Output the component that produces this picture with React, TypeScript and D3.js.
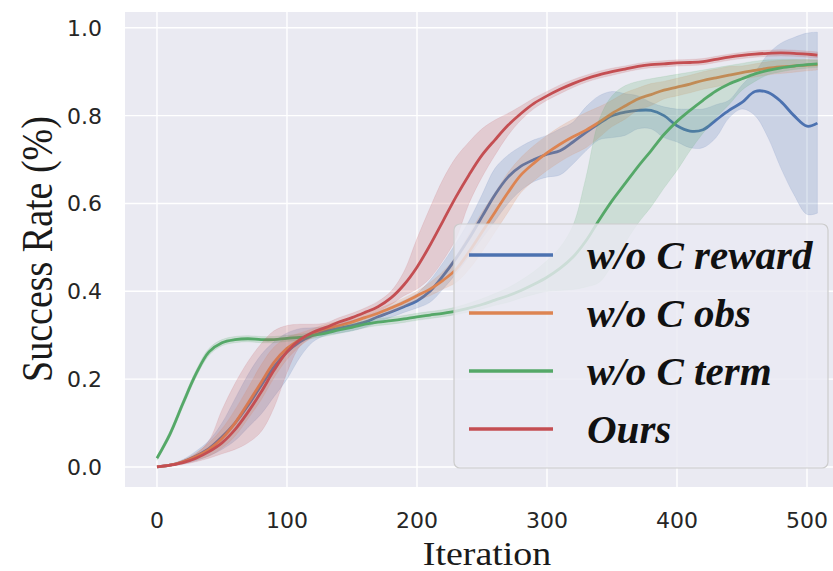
import * as d3 from 'd3';

const iterations = [0, 10, 20, 30, 40, 50, 60, 70, 80, 90, 100, 110, 120, 130, 140, 150, 160, 170, 180, 190, 200, 210, 220, 230, 240, 250, 260, 270, 280, 290, 300, 310, 320, 330, 340, 350, 360, 370, 380, 390, 400, 410, 420, 430, 440, 450, 460, 470, 480, 490, 500, 508];

// w/o C reward
const rewardMean = [0, 0.004, 0.012, 0.025, 0.042, 0.068, 0.1, 0.14, 0.185, 0.228, 0.262, 0.285, 0.3, 0.31, 0.316, 0.322, 0.33, 0.342, 0.353, 0.365, 0.378, 0.4, 0.435, 0.475, 0.52, 0.57, 0.62, 0.66, 0.685, 0.7, 0.712, 0.72, 0.74, 0.762, 0.782, 0.8, 0.808, 0.812, 0.812, 0.8, 0.777, 0.765, 0.768, 0.79, 0.812, 0.83, 0.855, 0.853, 0.832, 0.8, 0.776, 0.783];
const rewardLow = [0, 0.002, 0.007, 0.014, 0.025, 0.04, 0.06, 0.09, 0.12, 0.16, 0.2, 0.25, 0.285, 0.3, 0.305, 0.31, 0.318, 0.33, 0.341, 0.352, 0.362, 0.375, 0.405, 0.44, 0.48, 0.52, 0.56, 0.6, 0.63, 0.65, 0.66, 0.665, 0.69, 0.72, 0.745, 0.75, 0.755, 0.77, 0.77, 0.75, 0.74, 0.727, 0.727, 0.75, 0.795, 0.815, 0.8, 0.75, 0.68, 0.62, 0.575, 0.578];
const rewardHigh = [0, 0.006, 0.017, 0.036, 0.06, 0.1, 0.155, 0.21, 0.255, 0.285, 0.305, 0.315, 0.317, 0.32, 0.327, 0.334, 0.342, 0.354, 0.366, 0.379, 0.395, 0.425, 0.465, 0.51, 0.56, 0.62, 0.68, 0.71, 0.73, 0.745, 0.755, 0.77, 0.785, 0.82, 0.845, 0.855, 0.85, 0.845, 0.83, 0.82, 0.815, 0.815, 0.815, 0.825, 0.835, 0.87, 0.9, 0.94, 0.965, 0.978, 0.988, 0.99];

// w/o C obs
const obsMean = [0, 0.004, 0.012, 0.024, 0.04, 0.065, 0.1, 0.145, 0.192, 0.238, 0.27, 0.29, 0.305, 0.315, 0.322, 0.33, 0.34, 0.35, 0.362, 0.375, 0.39, 0.405, 0.425, 0.45, 0.49, 0.535, 0.58, 0.625, 0.665, 0.692, 0.715, 0.735, 0.752, 0.767, 0.785, 0.805, 0.822, 0.838, 0.848, 0.858, 0.865, 0.872, 0.88, 0.886, 0.892, 0.898, 0.903, 0.908, 0.911, 0.913, 0.915, 0.916];
const obsLow = [0, 0.002, 0.008, 0.016, 0.025, 0.043, 0.07, 0.11, 0.152, 0.203, 0.245, 0.275, 0.295, 0.305, 0.312, 0.32, 0.33, 0.34, 0.352, 0.365, 0.38, 0.39, 0.405, 0.42, 0.45, 0.49, 0.535, 0.58, 0.625, 0.652, 0.675, 0.695, 0.712, 0.727, 0.75, 0.775, 0.792, 0.813, 0.823, 0.838, 0.845, 0.852, 0.86, 0.866, 0.872, 0.883, 0.888, 0.893, 0.896, 0.899, 0.902, 0.904];
const obsHigh = [0, 0.006, 0.016, 0.032, 0.055, 0.087, 0.13, 0.18, 0.232, 0.273, 0.295, 0.305, 0.315, 0.325, 0.332, 0.34, 0.35, 0.36, 0.372, 0.385, 0.4, 0.42, 0.445, 0.48, 0.53, 0.58, 0.625, 0.67, 0.705, 0.732, 0.755, 0.775, 0.792, 0.807, 0.82, 0.835, 0.852, 0.863, 0.873, 0.878, 0.885, 0.892, 0.9, 0.906, 0.912, 0.913, 0.918, 0.923, 0.926, 0.927, 0.928, 0.928];

// w/o C term
const termMean = [0.02, 0.075, 0.145, 0.212, 0.262, 0.283, 0.29, 0.292, 0.29, 0.29, 0.293, 0.295, 0.3, 0.305, 0.312, 0.318, 0.325, 0.33, 0.333, 0.337, 0.342, 0.346, 0.35, 0.355, 0.362, 0.37, 0.38, 0.39, 0.402, 0.416, 0.432, 0.452, 0.478, 0.515, 0.562, 0.606, 0.645, 0.684, 0.72, 0.757, 0.787, 0.812, 0.835, 0.856, 0.872, 0.884, 0.895, 0.903, 0.909, 0.913, 0.916, 0.918];
const termLow = [0.015, 0.068, 0.137, 0.204, 0.254, 0.276, 0.283, 0.285, 0.283, 0.283, 0.286, 0.288, 0.293, 0.298, 0.304, 0.31, 0.317, 0.322, 0.325, 0.329, 0.334, 0.338, 0.342, 0.347, 0.353, 0.36, 0.368, 0.375, 0.385, 0.393, 0.4, 0.402, 0.404, 0.41, 0.42, 0.46, 0.51, 0.555, 0.592, 0.635, 0.675, 0.72, 0.76, 0.795, 0.825, 0.858, 0.878, 0.893, 0.9, 0.905, 0.908, 0.91];
const termHigh = [0.025, 0.082, 0.153, 0.22, 0.27, 0.29, 0.297, 0.299, 0.297, 0.297, 0.3, 0.302, 0.307, 0.312, 0.32, 0.326, 0.333, 0.338, 0.341, 0.345, 0.35, 0.354, 0.358, 0.364, 0.373, 0.383, 0.395, 0.408, 0.425, 0.445, 0.47, 0.5, 0.55, 0.66, 0.79, 0.845, 0.868, 0.878, 0.884, 0.889, 0.894, 0.899, 0.904, 0.909, 0.914, 0.919, 0.924, 0.927, 0.928, 0.928, 0.927, 0.926];

// Ours
const oursMean = [0, 0.004, 0.01, 0.02, 0.035, 0.055, 0.085, 0.125, 0.17, 0.22, 0.262, 0.29, 0.307, 0.318, 0.33, 0.34, 0.352, 0.365, 0.385, 0.415, 0.455, 0.505, 0.56, 0.615, 0.665, 0.71, 0.745, 0.778, 0.805, 0.828, 0.845, 0.86, 0.873, 0.884, 0.893, 0.9, 0.906, 0.912, 0.916, 0.918, 0.92, 0.921, 0.923, 0.928, 0.933, 0.937, 0.94, 0.942, 0.943, 0.942, 0.94, 0.938];
const oursLow = [0, 0.002, 0.006, 0.012, 0.02, 0.03, 0.04, 0.055, 0.08, 0.135, 0.215, 0.275, 0.297, 0.31, 0.322, 0.332, 0.343, 0.355, 0.37, 0.39, 0.405, 0.43, 0.47, 0.52, 0.6, 0.66, 0.71, 0.755, 0.79, 0.816, 0.835, 0.85, 0.864, 0.876, 0.885, 0.892, 0.899, 0.905, 0.909, 0.911, 0.913, 0.914, 0.916, 0.921, 0.926, 0.93, 0.933, 0.935, 0.936, 0.935, 0.933, 0.931];
const oursHigh = [0, 0.006, 0.015, 0.03, 0.06, 0.13, 0.19, 0.24, 0.28, 0.31, 0.322, 0.325, 0.325, 0.328, 0.34, 0.35, 0.362, 0.377, 0.4, 0.445, 0.52, 0.59, 0.655, 0.705, 0.74, 0.77, 0.79, 0.805, 0.822, 0.84, 0.855, 0.87, 0.882, 0.892, 0.901, 0.908, 0.913, 0.919, 0.923, 0.925, 0.927, 0.928, 0.93, 0.935, 0.94, 0.944, 0.947, 0.949, 0.95, 0.949, 0.947, 0.945];

const seriesNames = ['w/o C reward', 'w/o C obs', 'w/o C term', 'Ours'];
const seriesColors = ['#4c72b0', '#dd8452', '#55a868', '#c44e52'];
const xTicks = [0, 100, 200, 300, 400, 500];
const yTicks = [0, 0.2, 0.4, 0.6, 0.8, 1.0];

const series = [
  { mean: rewardMean, low: rewardLow, high: rewardHigh },
  { mean: obsMean, low: obsLow, high: obsHigh },
  { mean: termMean, low: termLow, high: termHigh },
  { mean: oursMean, low: oursLow, high: oursHigh },
];

const W = 833;
const H = 571;
const plot = { left: 125, right: 833, top: 12, bottom: 487 };

export default function App() {
  const x = d3.scaleLinear().domain([-24.6, 520]).range([plot.left, plot.right]);
  const y = d3.scaleLinear().domain([-0.0456, 1.036]).range([plot.bottom, plot.top]);

  const line = d3
    .line<number>()
    .x((_, i) => x(iterations[i]))
    .y((d) => y(d))
    .curve(d3.curveCatmullRom);

  const area = (low: number[], high: number[]) =>
    d3
      .area<number>()
      .x((_, i) => x(iterations[i]))
      .y0((_, i) => y(low[i]))
      .y1((_, i) => y(high[i]))
      .curve(d3.curveCatmullRom)(iterations);

  const tickFont = "'DejaVu Sans', sans-serif";
  const serif = "'Liberation Serif', 'Times New Roman', serif";

  return (
    <svg width={W} height={H} style={{ position: 'absolute', left: 0, top: 0, background: '#fff' }}>
      <defs>
        <clipPath id="plot-clip">
          <rect x={plot.left} y={plot.top} width={plot.right - plot.left} height={plot.bottom - plot.top} />
        </clipPath>
      </defs>

      <rect x={plot.left} y={plot.top} width={plot.right - plot.left} height={plot.bottom - plot.top} fill="#eaeaf2" />

      {/* grid */}
      {xTicks.map((t) => (
        <line key={'gx' + t} x1={x(t)} x2={x(t)} y1={plot.top} y2={plot.bottom} stroke="#fff" strokeWidth={1.4} />
      ))}
      {yTicks.map((t) => (
        <line key={'gy' + t} x1={plot.left} x2={plot.right} y1={y(t)} y2={y(t)} stroke="#fff" strokeWidth={1.4} />
      ))}

      <g clipPath="url(#plot-clip)">
        {series.map((s, i) => (
          <g key={seriesNames[i]}>
            <path d={area(s.low, s.high) || ''} fill={seriesColors[i]} fillOpacity={0.2} stroke={seriesColors[i]} strokeOpacity={0.15} strokeWidth={0.8} />
            <path d={line(s.mean) || ''} fill="none" stroke={seriesColors[i]} strokeWidth={2.8} strokeLinejoin="round" />
          </g>
        ))}
      </g>

      {/* tick labels */}
      {xTicks.map((t) => (
        <text key={'tx' + t} x={x(t)} y={528} textAnchor="middle" fontFamily={tickFont} fontSize={22} fill="#262626">
          {t}
        </text>
      ))}
      {yTicks.map((t) => (
        <text key={'ty' + t} x={102} y={y(t) + 8} textAnchor="end" fontFamily={tickFont} fontSize={22} fill="#262626">
          {t.toFixed(1)}
        </text>
      ))}

      {/* axis labels */}
      <text transform="translate(487,565) scale(1.15,1)" textAnchor="middle" fontFamily={serif} fontSize={33} fill="#1a1a1a">
        Iteration
      </text>
      <text transform="translate(52,249) rotate(-90) scale(1,1.18)" textAnchor="middle" fontFamily={serif} fontSize={38} fill="#1a1a1a">
        Success Rate (%)
      </text>

      {/* legend */}
      <g>
        <rect x={454} y={224} width={374} height={244} rx={6} fill="#eaeaf2" fillOpacity={0.8} stroke="#cccccc" strokeWidth={1.2} />
        {seriesNames.map((name, i) => {
          const ly = 255 + i * 58;
          return (
            <g key={'lg' + name}>
              <line x1={469} x2={553} y1={ly} y2={ly} stroke={seriesColors[i]} strokeWidth={3.3} />
              <text x={587} y={ly + 14} fontFamily={serif} fontStyle="italic" fontWeight="bold" fontSize={41} fill="#111">
                {name}
              </text>
            </g>
          );
        })}
      </g>
    </svg>
  );
}
